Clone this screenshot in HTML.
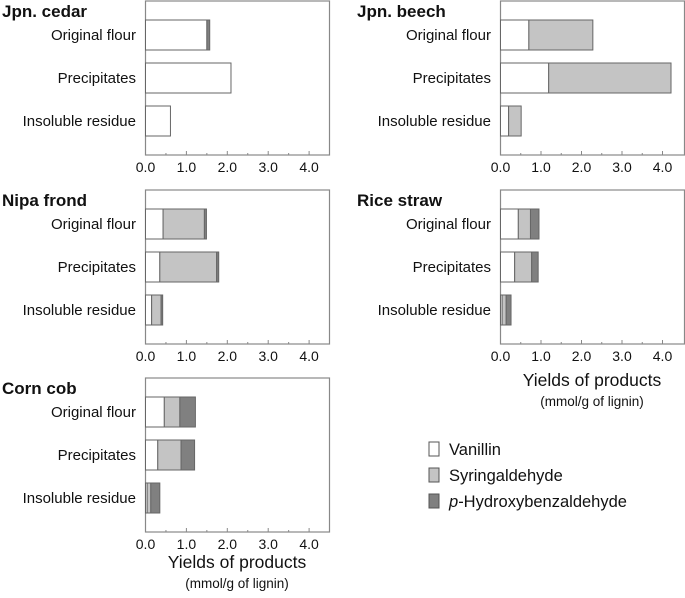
<!DOCTYPE html>
<html><head><meta charset="utf-8"><style>
body{margin:0;background:#fff;width:685px;height:593px;overflow:hidden}
svg text{font-family:"Liberation Sans",Arial,sans-serif;fill:#111}
</style></head><body>
<svg id="c" width="685" height="593"></svg>
<script>
const categories=["Original flour","Precipitates","Insoluble residue"];
const panelNames=["Jpn. cedar","Jpn. beech","Nipa frond","Rice straw","Corn cob"];
const vanillin=[[1.5,2.09,0.61],[0.70,1.19,0.20],[0.43,0.35,0.15],[0.44,0.35,0.04],[0.46,0.30,0.04]];
const syringaldehyde=[[0,0,0],[1.58,3.02,0.31],[1.01,1.39,0.23],[0.30,0.42,0.10],[0.38,0.57,0.09]];
const hydroxybenz=[[0.07,0,0],[0,0,0],[0.05,0.05,0.04],[0.21,0.16,0.12],[0.38,0.33,0.22]];
const tickVals=[0,1,2,3,4];
const tickLabels=["0.0","1.0","2.0","3.0","4.0"];
const seriesNames=["Vanillin","Syringaldehyde","Hydroxybenzaldehyde"];
const colors=["#ffffff","#c4c4c4","#808080"];
const layout=[{l:145.5,t:1,u:40.9,lx:136},{l:500.5,t:1,u:40.5,lx:491},{l:145.5,t:190,u:40.9,lx:136},{l:500.5,t:190,u:40.5,lx:491},{l:145.5,t:378,u:40.9,lx:136}];
const W=184,H=154;
const svg=document.getElementById('c');const NS="http://www.w3.org/2000/svg";
function mk(t,a,p){const e=document.createElementNS(NS,t);for(const k in a)e.setAttribute(k,a[k]);(p||svg).appendChild(e);return e;}
layout.forEach((L,pi)=>{
  const g=mk('g',{});
  
  
  const x=v=>L.l+v*L.u;
  const tt=mk('text',{x:L.lx-134,y:L.t+16,'font-size':17,'font-weight':'bold'},g);tt.textContent=panelNames[pi];
  
  
  const box=mk('rect',{x:L.l,y:L.t,width:W,height:H,fill:'none',stroke:'#888','stroke-width':1.2},g);
  
  
  tickVals.forEach((v,i)=>{
    mk('line',{x1:x(v),x2:x(v),y1:L.t+H,y2:L.t+H-4,stroke:'#888'},g);
    if(i<4)mk('line',{x1:x(v+0.5),x2:x(v+0.5),y1:L.t+H,y2:L.t+H-2,stroke:'#888'},g);
    const t=mk('text',{x:x(v),y:L.t+H+17,'font-size':14,'text-anchor':'middle'},g);t.textContent=tickLabels[i];
    
    
  });
  categories.forEach((c,ci)=>{
    const y0=L.t+19+ci*43;
    const t=mk('text',{x:L.lx,y:y0+20,'font-size':15,'text-anchor':'end'},g);t.textContent=c;
    
    
    let acc=0;
    [vanillin,syringaldehyde,hydroxybenz].forEach((s,si)=>{
      const v=s[pi][ci];if(v<=0)return;
      const r=mk('rect',{x:x(acc),y:y0,width:v*L.u,height:30,fill:colors[si],stroke:'#666','stroke-width':1},g);
      
      
      acc+=v;
    });
  });
});
function title(cx,y){const a=mk('text',{x:cx,y:y,'font-size':17.5,'text-anchor':'middle'});a.textContent="Yields of products";


const b=mk('text',{x:cx,y:y+20,'font-size':13.5,'text-anchor':'middle'});b.textContent="(mmol/g of lignin)";

}
title(237,568);title(592,386);
const lg=mk('g',{});


seriesNames.forEach((n,i)=>{
  const y=442+i*26;
  mk('rect',{x:429,y:y,width:10,height:14,fill:colors[i],stroke:'#555'},lg);
  const t=mk('text',{x:449,y:y+13,'font-size':16.5},lg);
  if(i==2){t.innerHTML='<tspan font-style="italic">p</tspan>-Hydroxybenzaldehyde';}else t.textContent=n;
  
  
});
</script>
</body></html>
